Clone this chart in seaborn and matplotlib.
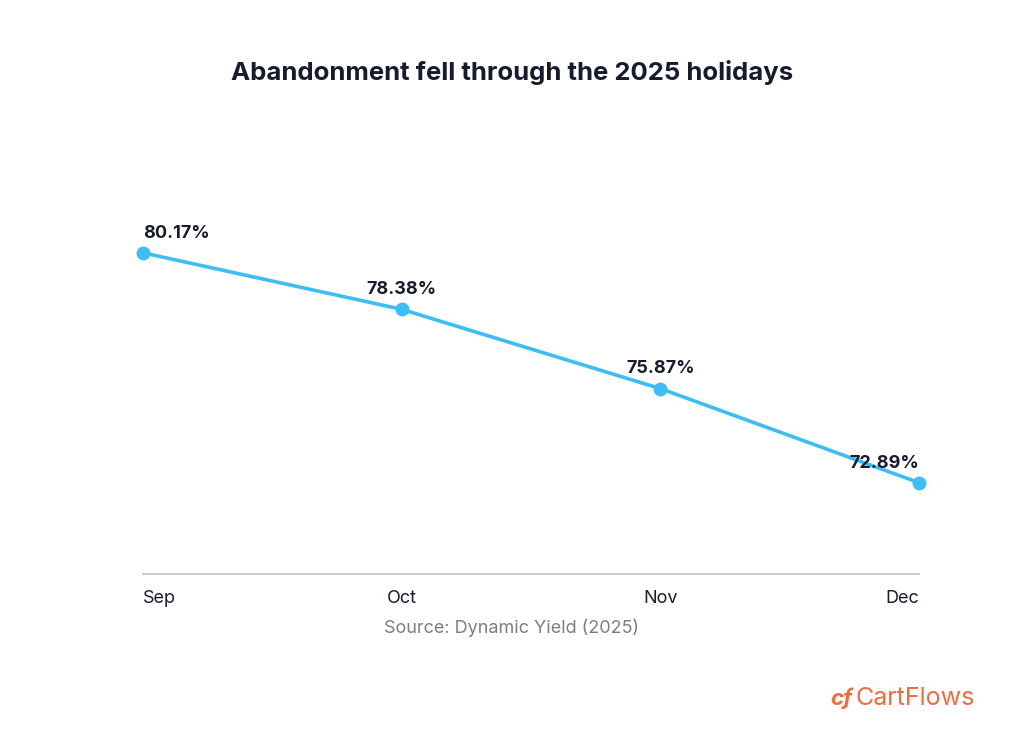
import pandas as pd
import seaborn as sns
import matplotlib.pyplot as plt

# Cart abandonment rate by month
months = ['Sep', 'Oct', 'Nov', 'Dec']
rates = [80.17, 78.38, 75.87, 72.89]
labels = ['80.17%', '78.38%', '75.87%', '72.89%']

df = pd.DataFrame({'month': months, 'rate': rates})

sns.set_style('white')
plt.rcParams['font.family'] = ['Inter', 'DejaVu Sans']

line_color = '#3dbdf6'
text_color = '#161c2d'

fig = plt.figure(figsize=(10.24, 7.37), dpi=100)
ax = fig.add_axes([0.1396, 0.2212, 0.7579, 0.5142])

sns.lineplot(data=df, x='month', y='rate', ax=ax, color=line_color, linewidth=2.6,
             marker='o', markersize=10, markeredgewidth=0, sort=False, clip_on=False)

ax.set_ylim(70, 82)
ax.set_xlim(0, len(months) - 1)
ax.set_xlabel('')
ax.set_ylabel('')
ax.set_yticks([])
for side in ['top', 'right', 'left']:
    ax.spines[side].set_visible(False)
ax.spines['bottom'].set_color('#c8c8cc')
ax.spines['bottom'].set_linewidth(1.3)
ax.tick_params(axis='x', length=0, pad=11.5, labelsize=13, labelcolor=text_color)

# edge labels hug the plot bounds like chart.js does
tick_aligns = ['left', 'center', 'center', 'right']
for tl, ha in zip(ax.get_xticklabels(), tick_aligns):
    tl.set_horizontalalignment(ha)

for i, (v, lab) in enumerate(zip(rates, labels)):
    ax.annotate(lab, (i, v), xytext=(0, 8), textcoords='offset points',
                ha=tick_aligns[i], va='bottom', fontsize=13, fontweight='bold',
                color=text_color)

fig.text(0.5, 0.902, 'Abandonment fell through the 2025 holidays', ha='center', va='center',
         fontsize=18.5, fontweight='bold', color=text_color)
fig.text(0.5, 0.148, 'Source: Dynamic Yield (2025)', ha='center', va='center',
         fontsize=13, color='#7a7f87')
fig.text(0.952, 0.052, 'CartFlows', ha='right', va='center',
         fontsize=18, color='#f26b3a')
fig.text(0.811, 0.052, 'cf', ha='left', va='center', fontsize=16,
         fontweight='bold', color='#f26b3a', style='italic')

fig.savefig('out.png', dpi=100, facecolor='white')
